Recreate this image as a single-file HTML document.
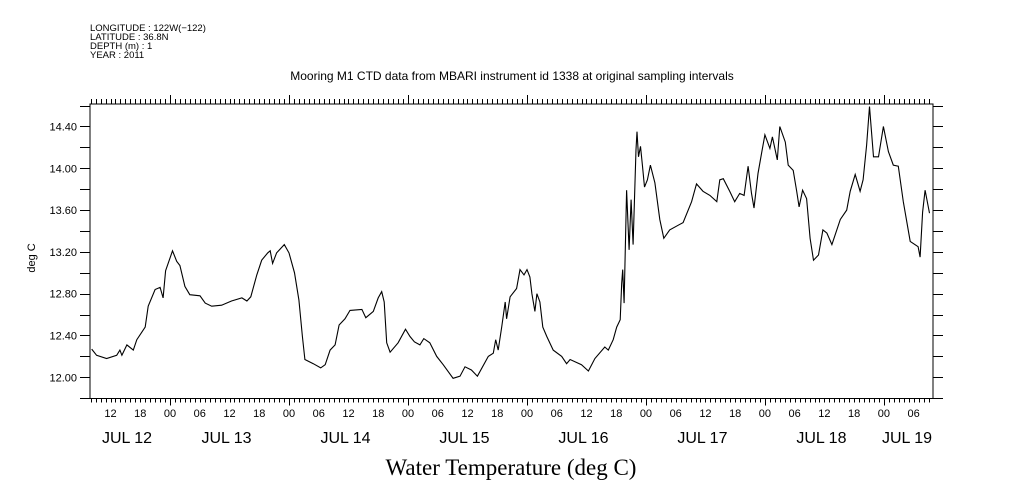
<!DOCTYPE html>
<html><head><meta charset="utf-8"><style>
html,body{margin:0;padding:0;background:#fff;}
svg{display:block;font-family:"Liberation Sans",sans-serif;}
</style></head><body>
<svg id="chart" width="1009" height="504" viewBox="0 0 1009 504" xmlns="http://www.w3.org/2000/svg">
<g font-size="9.5" fill="#000">
<text x="90" y="31">LONGITUDE : 122W(−122)</text>
<text x="90" y="40">LATITUDE : 36.8N</text>
<text x="90" y="49">DEPTH (m) : 1</text>
<text x="90" y="58">YEAR : 2011</text>
</g>
<text x="512" y="80" text-anchor="middle" font-size="12">Mooring M1 CTD data from MBARI instrument id 1338 at original sampling intervals</text>
<text x="511" y="475" text-anchor="middle" font-size="23" font-family="'Liberation Serif',serif">Water Temperature (deg C)</text>
<text transform="translate(35,258) rotate(-90)" text-anchor="middle" font-size="11">deg C</text>
<g id="axes"></g>
<g id="series"></g>
</svg>
<script>
const hours=[8.2,9.2,11.2,13.25,13.9,14.3,15.3,16.6,17.3,19.0,19.6,21.0,22.0,22.6,23.1,24.0,24.5,25.35,26.0,27.0,28.0,30.05,31.1,32.4,34.4,36.4,38.5,39.5,40.3,41.5,42.5,43.7,44.2,44.7,45.5,47.05,48.0,49.1,50.0,50.7,51.2,52.9,54.4,55.3,56.3,57.3,58.1,59.3,60.3,62.7,63.5,65.0,66.0,66.7,67.2,67.7,68.4,70.0,71.5,72.4,73.3,74.4,75.2,76.4,77.8,79.1,81.1,82.5,83.5,84.8,86.0,88.2,89.2,89.7,90.2,90.9,91.6,91.9,92.6,93.9,94.6,95.4,96.0,96.6,97.0,97.6,98.0,98.6,99.2,100.0,101.3,103.0,104.0,104.7,107.0,108.4,109.7,111.7,112.4,113.4,114.1,114.8,115.1,115.3,115.6,116.1,116.6,117.0,117.4,118.0,118.2,118.5,118.9,119.3,119.7,120.3,120.9,121.8,122.8,123.6,124.8,126.7,127.5,129.2,130.2,131.5,132.9,134.3,134.9,135.6,136.9,137.9,138.9,139.8,140.6,141.3,141.8,142.6,143.3,144.0,145.0,145.5,146.5,147.0,148.1,148.7,149.7,150.4,150.9,151.6,152.4,153.1,153.8,154.8,155.7,156.5,157.5,159.2,160.5,161.2,162.2,163.2,163.8,164.5,165.1,165.9,166.9,167.9,168.9,169.9,170.9,171.9,173.3,174.9,175.3,175.8,176.3,177.2];
const temps=[12.27,12.21,12.18,12.21,12.26,12.21,12.31,12.26,12.36,12.48,12.68,12.84,12.86,12.76,13.02,13.14,13.21,13.11,13.07,12.87,12.79,12.78,12.71,12.68,12.69,12.73,12.76,12.73,12.77,12.98,13.12,13.19,13.21,13.09,13.19,13.27,13.19,13.00,12.74,12.39,12.17,12.13,12.09,12.12,12.26,12.31,12.50,12.56,12.64,12.65,12.57,12.63,12.76,12.82,12.72,12.33,12.24,12.33,12.46,12.39,12.34,12.31,12.37,12.33,12.20,12.12,11.99,12.01,12.10,12.07,12.01,12.20,12.23,12.36,12.26,12.48,12.72,12.56,12.77,12.85,13.03,12.98,13.03,12.96,12.80,12.63,12.80,12.72,12.48,12.39,12.26,12.20,12.13,12.17,12.12,12.06,12.18,12.29,12.26,12.36,12.48,12.55,12.90,13.03,12.71,13.79,13.22,13.70,13.27,14.18,14.35,14.11,14.21,14.02,13.82,13.89,14.03,13.86,13.51,13.33,13.41,13.46,13.48,13.68,13.85,13.78,13.74,13.68,13.89,13.90,13.78,13.68,13.76,13.74,14.02,13.76,13.62,13.95,14.14,14.32,14.19,14.30,14.08,14.40,14.25,14.03,13.98,13.78,13.63,13.79,13.71,13.33,13.12,13.17,13.41,13.38,13.27,13.51,13.60,13.78,13.94,13.78,13.89,14.22,14.59,14.11,14.11,14.40,14.16,14.03,14.02,13.68,13.30,13.25,13.15,13.58,13.79,13.57];
const yTickValues=[12.0,12.4,12.8,13.2,13.6,14.0,14.4];
const yTickLabels=["12.00","12.40","12.80","13.20","13.60","14.00","14.40"];
const hourLabels=["00","06","12","18"];
const dayLabels=["JUL 12","JUL 13","JUL 14","JUL 15","JUL 16","JUL 17","JUL 18","JUL 19"];

const L=90,R=933,T=104,B=398.5;
const X0=7.86,X1=177.9,Y0=11.797,Y1=14.615;
const sx=h=>L+(h-X0)/(X1-X0)*(R-L);
const sy=v=>B-(v-Y0)/(Y1-Y0)*(B-T);
const NS="http://www.w3.org/2000/svg";
const axes=document.getElementById('axes');
function mk(tag,attrs,parent){const e=document.createElementNS(NS,tag);for(const k in attrs)e.setAttribute(k,attrs[k]);parent.appendChild(e);return e;}

const frame=mk('rect',{x:L,y:T,width:R-L,height:B-T,fill:'none',stroke:'#000','stroke-width':1},axes);



let d='';
for(let v=11.8;v<=14.61;v+=0.2){const y=Math.round(sy(v))+0.5;d+=`M${L-10} ${y}H${L}M${R} ${y}H${R+10}`;}
for(let h=Math.ceil(X0);h<=X1;h++){const x=Math.round(sx(h))+0.5;const major=(h%24===0);d+=`M${x} ${B}v${major?7:4}M${x} ${T}v${major?-9:-5}`;}
const ticks=mk('path',{d:d,stroke:'#000','stroke-width':1,fill:'none'},axes);



yTickValues.forEach((v,i)=>{
 const t=mk('text',{x:L-13,y:sy(v)+4,'text-anchor':'end','font-size':11},axes);
 t.textContent=yTickLabels[i];
 
 
});
for(let h=Math.ceil(X0/6)*6;h<=X1;h+=6){
 const t=mk('text',{x:sx(h),y:417,'text-anchor':'middle','font-size':11},axes);
 t.textContent=hourLabels[(h/6)%4];
 
 
}
dayLabels.forEach((lab,i)=>{
 let x=sx(i*24+12)-3;
 if(i===0)x=127;
 if(i===dayLabels.length-1)x=907;
 const t=mk('text',{x:x,y:443,'text-anchor':'middle','font-size':16},axes);
 t.textContent=lab;
 
 
});

const pts=hours.map((h,i)=>sx(h).toFixed(1)+','+sy(temps[i]).toFixed(1)).join(' ');
const line=mk('polyline',{points:pts,fill:'none',stroke:'#000','stroke-width':1.1},document.getElementById('series'));


</script>
</body></html>
